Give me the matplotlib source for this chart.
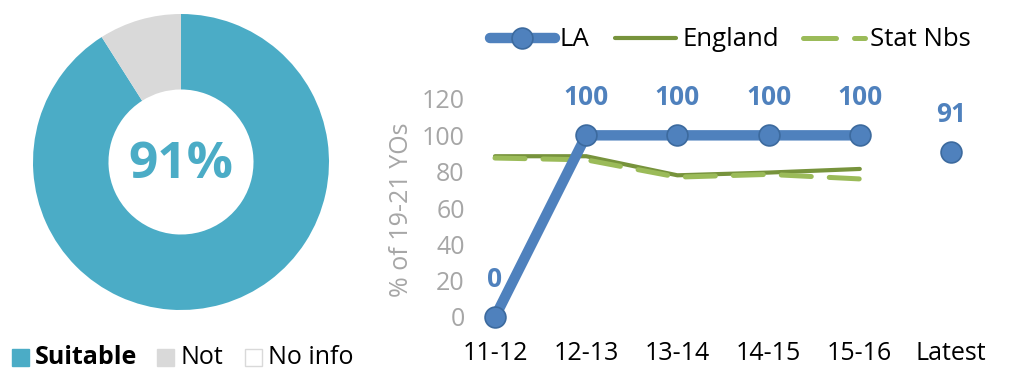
import matplotlib
matplotlib.use("Agg")
import matplotlib.pyplot as plt
import numpy as np
from matplotlib.lines import Line2D
from matplotlib.patches import Rectangle

# ---- data ----
donut_labels = ["Suitable", "Not", "No info"]
donut_values = [91, 9, 0]
donut_center_text = "91%"

categories = ["11-12", "12-13", "13-14", "14-15", "15-16", "Latest"]
la_values = [0, 100, 100, 100, 100, np.nan]
latest_values = [np.nan, np.nan, np.nan, np.nan, np.nan, 91]
england_values = [88.5, 88.5, 78, 79.5, 81.5, np.nan]
statnbs_values = [87.5, 86.5, 77, 78.5, 76, np.nan]
y_ticks = [0, 20, 40, 60, 80, 100, 120]
legend_labels = ["LA", "England", "Stat Nbs"]

FONT = ["Open Sans", "DejaVu Sans"]
plt.rcParams["font.family"] = FONT

C_TEAL = "#4BACC6"
C_GREY = "#D9D9D9"
C_BLUE = "#4F81BD"
C_EDGE = "#3C6A9E"
C_ENG = "#77933C"
C_STAT = "#9BBB59"
C_TICK = "#A6A6A6"

W, H = 1021, 374
fig = plt.figure(figsize=(W / 100, H / 100), dpi=100)

def fx(px):
    return px / W

def fy(py):
    return 1 - py / H

# ---- donut ----
cx, cy, r = 181, 162, 148
axd = fig.add_axes([(cx - r) / W, 1 - (cy + r) / H, 2 * r / W, 2 * r / H])
axd.pie(donut_values, colors=[C_TEAL, C_GREY, "white"], startangle=90, counterclock=False,
        radius=1.0, wedgeprops=dict(width=0.51, edgecolor="none"))
axd.set_xlim(-1.0, 1.0)
axd.set_ylim(-1.0, 1.0)
axd.set_aspect("equal")
axd.axis("off")
axd.text(0, -0.02, donut_center_text, ha="center", va="center", fontsize=37,
         fontweight="bold", color=C_TEAL)

# donut legend
sq_x = [12, 157, 245]
for i, (lab, col) in enumerate(zip(donut_labels, [C_TEAL, C_GREY, "white"])):
    x0 = sq_x[i]
    fig.patches.append(Rectangle((fx(x0), fy(366)), 17 / W, 17 / H, transform=fig.transFigure,
                                 facecolor=col, edgecolor="#D9D9D9" if col == "white" else col,
                                 linewidth=1))
    fig.text(fx(x0 + 23), fy(357), lab, ha="left", va="center", fontsize=18,
             fontweight="bold" if i == 0 else "normal", color="black")

# ---- line chart ----
spacing = 91.2
left = 495 - spacing / 2
y0, y120 = 317, 99
ax = fig.add_axes([left / W, 1 - y0 / H, 6 * spacing / W, (y0 - y120) / H])
x = np.arange(len(categories))

LA_LW = 7.5
MS = 15
ax.plot(x, england_values, color=C_ENG, lw=3.0, solid_capstyle="round", zorder=2)
ax.plot(x, statnbs_values, color=C_STAT, lw=3.6, dashes=(6, 3.6), dash_capstyle="round", zorder=2)
ax.plot(x, la_values, color=C_BLUE, lw=LA_LW, marker="o", markersize=MS, markerfacecolor=C_BLUE,
        markeredgecolor=C_EDGE, markeredgewidth=1.2, solid_capstyle="round", zorder=3, clip_on=False)
ax.plot(x, latest_values, color=C_BLUE, lw=0, marker="o", markersize=MS, markerfacecolor=C_BLUE,
        markeredgecolor=C_EDGE, markeredgewidth=1.2, zorder=3, clip_on=False)

for series in (la_values, latest_values):
    for xi, v in zip(x, series):
        if not np.isnan(v):
            ax.annotate(f"{v:.0f}", (xi, v), xytext=(0, 27), textcoords="offset points",
                        ha="center", va="center", fontsize=19, fontweight="bold", color=C_BLUE)

ax.set_xlim(-0.5, len(categories) - 0.5)
ax.set_ylim(0, 120)
ax.set_yticks(y_ticks)
ax.set_yticklabels([str(t) for t in y_ticks], fontsize=18, color=C_TICK)
ax.set_xticks(x)
ax.set_xticklabels(categories, fontsize=18, color="black")
ax.tick_params(axis="both", length=0)
ax.tick_params(axis="x", pad=17)
ax.tick_params(axis="y", pad=-11)
for s in ax.spines.values():
    s.set_visible(False)
ax.patch.set_alpha(0)
fig.text(fx(401), fy(210), "% of 19-21 YOs", rotation=90, ha="center", va="center",
         fontsize=18, color=C_TICK)

# ---- legend (manual) ----
ly = fy(38)
fig.add_artist(Line2D([fx(490), fx(555)], [ly, ly], color=C_BLUE, lw=LA_LW,
                      solid_capstyle="round", transform=fig.transFigure))
fig.add_artist(Line2D([fx(522)], [ly], color=C_BLUE, lw=0, marker="o", markersize=MS,
                      markerfacecolor=C_BLUE, markeredgecolor=C_EDGE, markeredgewidth=1.2,
                      transform=fig.transFigure))
fig.text(fx(560), fy(40), legend_labels[0], ha="left", va="center", fontsize=18.5, color="black")
fig.add_artist(Line2D([fx(615), fx(676)], [ly, ly], color=C_ENG, lw=3.0,
                      solid_capstyle="round", transform=fig.transFigure))
fig.text(fx(682), fy(40), legend_labels[1], ha="left", va="center", fontsize=18.5, color="black")
fig.add_artist(Line2D([fx(803), fx(836)], [ly, ly], color=C_STAT, lw=3.6,
                      solid_capstyle="round", transform=fig.transFigure))
fig.add_artist(Line2D([fx(854), fx(865)], [ly, ly], color=C_STAT, lw=3.6,
                      solid_capstyle="round", transform=fig.transFigure))
fig.text(fx(870), fy(40), legend_labels[2], ha="left", va="center", fontsize=18.5, color="black")

fig.savefig("out.png", dpi=100)
